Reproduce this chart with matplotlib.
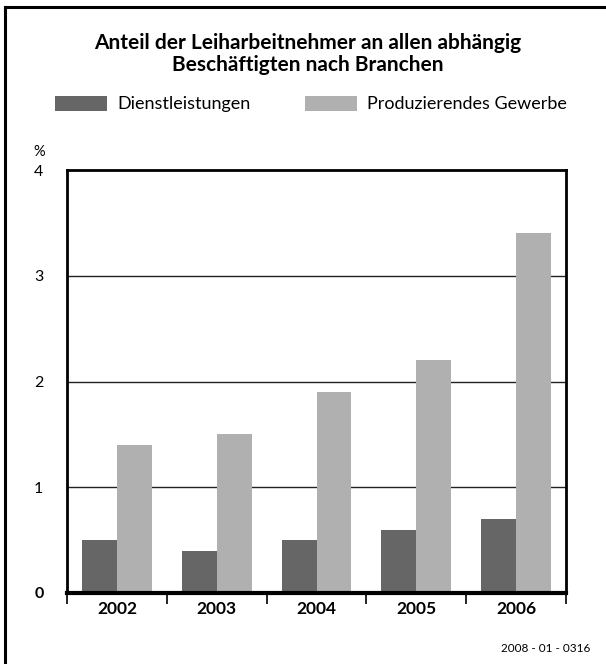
import matplotlib
matplotlib.use("Agg")
import matplotlib.pyplot as plt
from matplotlib.lines import Line2D
import numpy as np

plt.rcParams['font.family'] = ['Lato', 'DejaVu Sans']

years = ["2002", "2003", "2004", "2005", "2006"]
dienst = [0.5, 0.4, 0.5, 0.6, 0.7]
produz = [1.4, 1.5, 1.9, 2.2, 3.4]
series_names = ["Dienstleistungen", "Produzierendes Gewerbe"]
title = "Anteil der Leiharbeitnehmer an allen abhängig\nBeschäftigten nach Branchen"
y_ticks = [0, 1, 2, 3, 4]
footer = "2008 - 01 - 0316"

W, H = 606, 664
fig = plt.figure(figsize=(W / 100, H / 100), dpi=100)
ax = fig.add_axes([67 / W, 1 - 593 / H, (566 - 67) / W, (593 - 170) / H])

x = np.arange(len(years))
bw = 0.35
dark = "#666666"
light = "#b0b0b0"
b1 = ax.bar(x - bw / 2, dienst, bw, color=dark, zorder=3, label=series_names[0])
b2 = ax.bar(x + bw / 2, produz, bw, color=light, zorder=3, label=series_names[1])

ax.set_xlim(-0.5, len(years) - 0.5)
ax.set_ylim(0, 4)

for v in [1, 2, 3]:
    ax.axhline(v, color="#222222", lw=1.0, zorder=1)

for s in ["left", "top", "right"]:
    ax.spines[s].set_linewidth(2.0)
ax.spines["bottom"].set_linewidth(3.0)
ax.spines["bottom"].set_zorder(4)

# y ticks
ax.set_yticks(y_ticks)
ax.set_yticklabels([str(t) for t in y_ticks], fontsize=11.5)
ax.tick_params(axis="y", length=0, pad=17)
for lbl in ax.get_yticklabels():
    if lbl.get_text() == "0":
        lbl.set_fontweight("bold")

# x ticks at boundaries, labels at centers
ax.set_xticks(np.arange(-0.5, len(years), 1.0))
ax.set_xticklabels([])
ax.tick_params(axis="x", which="major", length=8, width=1.2, direction="out")
ax.set_xticks(x, minor=True)
ax.set_xticklabels(years, minor=True, fontsize=12.5, fontweight="bold")
ax.tick_params(axis="x", which="minor", length=0, pad=6)

fig.text(308 / W, 1 - 54 / H, title, ha="center", va="center",
         fontsize=15, fontweight="bold", linespacing=1.15)

fig.legend(handles=[b1, b2], labels=series_names, loc="center left",
           bbox_to_anchor=(55 / W, 1 - 104 / H), ncol=2, frameon=False,
           fontsize=13, handlelength=2.9, handleheight=0.95,
           handletextpad=0.55, columnspacing=3.0, borderpad=0,
           borderaxespad=0)

fig.text(33 / W, 1 - 152 / H, "%", ha="left", va="center", fontsize=10.5)
fig.text(590 / W, 1 - 648 / H, footer, ha="right", va="center", fontsize=8.5)

# frame: top and left lines
fig.add_artist(Line2D([5 / W, 1.0], [1 - 7 / H, 1 - 7 / H], color="black",
                      lw=2.2, transform=fig.transFigure))
fig.add_artist(Line2D([5 / W, 5 / W], [0, 1 - 7 / H], color="black",
                      lw=2.2, transform=fig.transFigure))

fig.savefig("out.png", dpi=100)
